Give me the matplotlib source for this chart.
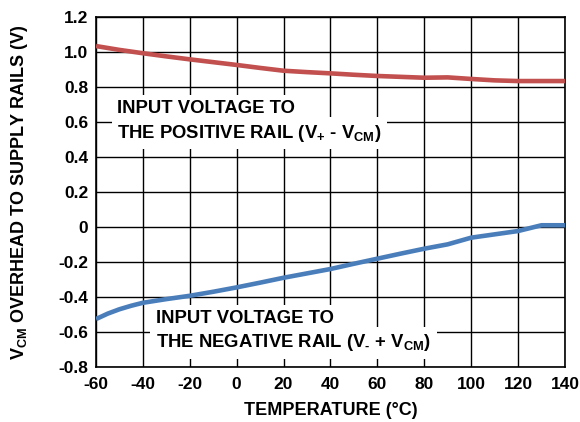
import numpy as np
import matplotlib.pyplot as plt

plt.rcParams['font.family'] = ['Liberation Sans', 'DejaVu Sans']
plt.rcParams['font.weight'] = 'bold'
plt.rcParams['mathtext.fontset'] = 'custom'
plt.rcParams['mathtext.rm'] = 'Liberation Sans:bold'
plt.rcParams['mathtext.bf'] = 'Liberation Sans:bold'
plt.rcParams['mathtext.it'] = 'Liberation Sans:bold'

# positive rail overhead
temp_pos = [-60, -50, -40, -30, -20, -10, 0, 10, 20, 30, 40, 50, 60, 70, 80, 90, 100, 110, 120, 130, 140]
v_pos = [1.034, 1.012, 0.993, 0.975, 0.958, 0.942, 0.926, 0.909, 0.893, 0.885, 0.878, 0.870, 0.863, 0.858, 0.853, 0.855, 0.846, 0.838, 0.834, 0.834, 0.834]

# negative rail overhead
temp_neg = [-60, -55, -50, -45, -40, -30, -20, -10, 0, 10, 20, 30, 40, 50, 60, 70, 80, 90, 100, 110, 120, 130, 140]
v_neg = [-0.526, -0.495, -0.47, -0.45, -0.433, -0.412, -0.393, -0.370, -0.345, -0.318, -0.29, -0.265, -0.24, -0.21, -0.181, -0.152, -0.124, -0.099, -0.061, -0.042, -0.023, 0.010, 0.010]

xticks = [-60, -40, -20, 0, 20, 40, 60, 80, 100, 120, 140]
yticks = [-0.8, -0.6, -0.4, -0.2, 0, 0.2, 0.4, 0.6, 0.8, 1.0, 1.2]
ylabels = ['-0.8', '-0.6', '-0.4', '-0.2', '0', '0.2', '0.4', '0.6', '0.8', '1.0', '1.2']

fig = plt.figure(figsize=(5.8, 4.22), dpi=100)
ax = fig.add_axes([0.1655, 0.1303, 0.8085, 0.8294])

ax.plot(temp_pos, v_pos, color='#c1504e', linewidth=3.3, zorder=5, solid_capstyle='butt')
ax.plot(temp_neg, v_neg, color='#4a7ebb', linewidth=3.3, zorder=5, solid_capstyle='butt')

ax.set_xlim(-60, 140)
ax.set_ylim(-0.8, 1.2)
ax.set_xticks(xticks)
ax.set_xticklabels([str(t) for t in xticks], fontweight='bold')
ax.set_yticks(yticks)
ax.set_yticklabels(ylabels, fontweight='bold')
ax.tick_params(axis='both', length=0, labelsize=12.5)
ax.tick_params(axis='x', pad=7)
ax.tick_params(axis='y', pad=5.5)
ax.grid(True, color='black', linewidth=1.0)
ax.set_axisbelow(True)
for s in ax.spines.values():
    s.set_linewidth(1.2)

box = dict(facecolor='white', edgecolor='none', pad=4)
fs = 13.3
ax.text(-51, 0.651, 'INPUT VOLTAGE TO', fontsize=fs, fontweight='bold',
        va='baseline', ha='left', bbox=box, zorder=4)
ax.text(-51, 0.509, 'THE POSITIVE RAIL (V$_{+}$ - V$_{CM}$)', fontsize=fs, fontweight='bold',
        va='baseline', ha='left', bbox=box, zorder=4)
ax.text(-34.4, -0.549, 'INPUT VOLTAGE TO', fontsize=fs, fontweight='bold',
        va='baseline', ha='left', bbox=box, zorder=4)
ax.text(-34.4, -0.686, r'THE NEGATIVE RAIL (V$_{\text{-}}$ + V$_{CM}$)', fontsize=fs, fontweight='bold',
        va='baseline', ha='left', bbox=box, zorder=4)

ax.set_xlabel('TEMPERATURE (°C)', fontsize=13, fontweight='bold', va='top')
ax.xaxis.set_label_coords(0.5, -0.1)
ax.set_ylabel('V$_{CM}$ OVERHEAD TO SUPPLY RAILS (V)', fontsize=13, fontweight='bold')
ax.yaxis.set_label_coords(-0.14, 0.5)

fig.savefig('out.png', dpi=100)
